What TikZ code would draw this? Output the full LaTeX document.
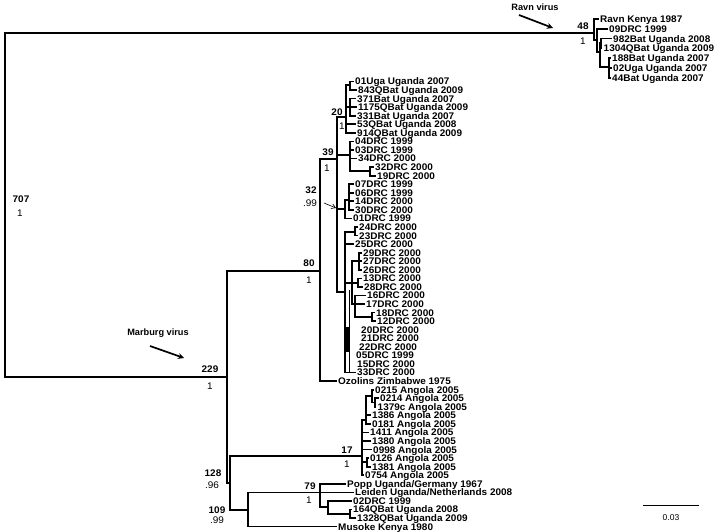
\documentclass[tikz,border=0pt]{standalone}
\usepackage{fontspec}
\setmainfont{Liberation Sans}
\newfontfamily\labfont[FakeStretch=1.04]{Liberation Sans}
\usetikzlibrary{arrows.meta}
\begin{document}
\begin{tikzpicture}[x=1pt,y=-1pt,
  br/.style={line width=1.7pt,line cap=rect,line join=miter},
  tip/.style={anchor=west,inner xsep=2pt,inner ysep=0pt,text height=6.9pt,text depth=0pt,font=\labfont\bfseries\fontsize{9.6}{9.6}\selectfont},
  supb/.style={inner sep=0pt,font=\labfont\bfseries\fontsize{9.6}{9.6}\selectfont},
  supr/.style={inner sep=0pt,font=\labfont\fontsize{9.6}{9.6}\selectfont},
  callout/.style={inner sep=0pt,font=\bfseries\fontsize{9.2}{9.2}\selectfont},
  bigarrow/.style={line width=1.7pt,-{Stealth[length=6pt,width=6pt]}}]
\useasboundingbox (0,0) rectangle (720,532);
% internal nodes
\coordinate (root) at (5,205);
\coordinate (r0) at (594,33);
\coordinate (r1) at (597,40);
\coordinate (r2) at (600,52);
\coordinate (r3) at (601,43);
\coordinate (r4) at (609,67);
\coordinate (n229) at (227,377);
\coordinate (n80) at (320,271);
\coordinate (n39) at (337,159);
\coordinate (n20) at (346,117);
\coordinate (nA1) at (350,85);
\coordinate (nA2) at (350,107);
\coordinate (nB) at (350,155);
\coordinate (nB2) at (370,171);
\coordinate (nC) at (345,209);
\coordinate (nC1) at (349,200);
\coordinate (nD) at (345,292);
\coordinate (nD1) at (355,232);
\coordinate (nD2) at (352,283);
\coordinate (nD2a) at (359,261.3);
\coordinate (nD2b) at (358,282.7);
\coordinate (nD2c) at (355,304);
\coordinate (nD2cc) at (372,317);
\coordinate (n128) at (230,483);
\coordinate (n17) at (362,456);
\coordinate (nAng2) at (366,420);
\coordinate (nAng1) at (372,396);
\coordinate (nAng1b) at (375,402.5);
\coordinate (nAngB) at (367,462);
\coordinate (n109) at (248,510);
\coordinate (n79) at (320,492.4);
\coordinate (nQ) at (328,507);
\coordinate (nQ2) at (350,513.8);
% tips: Ravn
\node[tip] (tRavn) at (598,19) {Ravn Kenya 1987};
\node[tip] (t09) at (607,28.8) {09DRC 1999};
\node[tip] (t982) at (611,38.6) {982Bat Uganda 2008};
\node[tip] (t1304) at (601.5,48.4) {1304QBat Uganda 2009};
\node[tip] (t188) at (610,58.2) {188Bat Uganda 2007};
\node[tip] (t02uga) at (611,68) {02Uga Uganda 2007};
\node[tip] (t44) at (610,77.8) {44Bat Uganda 2007};
% tips: Marburg
\node[tip] (t01uga) at (353,81.5) {01Uga Uganda 2007};
\node[tip] (t843) at (356,90.06) {843QBat Uganda 2009};
\node[tip] (t371) at (355,98.62) {371Bat Uganda 2007};
\node[tip] (t1175) at (356,107.18) {1175QBat Uganda 2009};
\node[tip] (t331) at (355,115.74) {331Bat Uganda 2007};
\node[tip] (t53) at (355,124.3) {53QBat Uganda 2008};
\node[tip] (t914) at (355,132.86) {914QBat Uganda 2009};
\node[tip] (t04) at (353,141.42) {04DRC 1999};
\node[tip] (t03) at (353,149.98) {03DRC 1999};
\node[tip] (t34) at (356,158.54) {34DRC 2000};
\node[tip] (t32) at (373,167.1) {32DRC 2000};
\node[tip] (t19) at (375,175.66) {19DRC 2000};
\node[tip] (t07) at (353,184.22) {07DRC 1999};
\node[tip] (t06) at (353,192.78) {06DRC 1999};
\node[tip] (t14) at (353,201.34) {14DRC 2000};
\node[tip] (t30) at (353,209.9) {30DRC 2000};
\node[tip] (t01drc) at (351,218.46) {01DRC 1999};
\node[tip] (t24) at (357,227.02) {24DRC 2000};
\node[tip] (t23) at (357,235.58) {23DRC 2000};
\node[tip] (t25) at (353,244.14) {25DRC 2000};
\node[tip] (t29) at (361,252.7) {29DRC 2000};
\node[tip] (t27) at (361,261.26) {27DRC 2000};
\node[tip] (t26) at (361,269.82) {26DRC 2000};
\node[tip] (t13) at (361,278.38) {13DRC 2000};
\node[tip] (t28) at (362,286.94) {28DRC 2000};
\node[tip] (t16) at (365,295.5) {16DRC 2000};
\node[tip] (t17) at (364,304.06) {17DRC 2000};
\node[tip] (t18) at (374,312.62) {18DRC 2000};
\node[tip] (t12) at (375,321.18) {12DRC 2000};
\node[tip] (t20) at (359,329.74) {20DRC 2000};
\node[tip] (t21) at (359,338.3) {21DRC 2000};
\node[tip] (t22) at (357,346.86) {22DRC 2000};
\node[tip] (t05) at (354,355.42) {05DRC 1999};
\node[tip] (t15) at (355,363.98) {15DRC 2000};
\node[tip] (t33) at (355,372.54) {33DRC 2000};
\node[tip] (tOzo) at (336,381.1) {Ozolins Zimbabwe 1975};
\node[tip] (t0215) at (373,389.66) {0215 Angola 2005};
\node[tip] (t0214) at (378,398.22) {0214 Angola 2005};
\node[tip] (t1379) at (375.5,406.78) {1379c Angola 2005};
\node[tip] (t1386) at (370,415.34) {1386 Angola 2005};
\node[tip] (t0181) at (370,423.9) {0181 Angola 2005};
\node[tip] (t1411) at (368,432.46) {1411 Angola 2005};
\node[tip] (t1380) at (370,441.02) {1380 Angola 2005};
\node[tip] (t0998) at (371,449.58) {0998 Angola 2005};
\node[tip] (t0126) at (368,458.14) {0126 Angola 2005};
\node[tip] (t1381) at (370,466.7) {1381 Angola 2005};
\node[tip] (t0754) at (363,475.26) {0754 Angola 2005};
\node[tip] (tPopp) at (345,483.82) {Popp Uganda/Germany 1967};
\node[tip] (tLeiden) at (353,492.38) {Leiden Uganda/Netherlands 2008};
\node[tip] (t02drc) at (351,500.94) {02DRC 1999};
\node[tip] (t164) at (351,509.5) {164QBat Uganda 2008};
\node[tip] (t1328) at (355,518.06) {1328QBat Uganda 2009};
\node[tip] (tMus) at (336,526.62) {Musoke Kenya 1980};
% internal edges
\foreach \a/\b in {root/r0,root/n229,r0/r1,r1/r2,r2/r3,r2/r4,
  n229/n80,n229/n128,n80/n39,n39/n20,n39/nB,n39/nC,n39/nD,n20/nA1,n20/nA2,
  nB/nB2,nC/nC1,nD/nD1,nD/nD2,nD2/nD2a,nD2/nD2b,nD2/nD2c,nD2c/nD2cc,
  n128/n17,n128/n109,n17/nAng2,nAng2/nAng1,nAng1/nAng1b,n17/nAngB,
  n109/n79,n79/nQ,nQ/nQ2}
  \draw[br] (\a) |- (\b);
% tip edges
\foreach \a/\b in {r0/tRavn,r1/t09,r3/t982,r3/t1304,r4/t188,r4/t02uga,r4/t44,
  nA1/t01uga,nA1/t843,nA2/t371,nA2/t1175,nA2/t331,n20/t53,n20/t914,
  nB/t04,nB/t03,nB/t34,nB2/t32,nB2/t19,nC1/t07,nC1/t06,nC1/t14,nC1/t30,nC/t01drc,
  nD1/t24,nD1/t23,nD/t25,nD2a/t29,nD2a/t27,nD2a/t26,nD2b/t13,nD2b/t28,
  nD2c/t16,nD2c/t17,nD2cc/t18,nD2cc/t12,nD/t33,n80/tOzo,
  nAng1/t0215,nAng1b/t0214,nAng1b/t1379,nAng2/t1386,nAng2/t0181,
  n17/t1411,n17/t1380,n17/t0998,nAngB/t0126,nAngB/t1381,n17/t0754,
  n109/tMus,n79/tPopp,n79/tLeiden,nQ/t02drc,nQ2/t164,nQ2/t1328}
  \draw[br] (\a) |- (\b.west);
% collapsed zero-length block
\draw[line width=1pt] (349.5,290) -- (349.5,372.5);
\fill (345,327) rectangle (350,352);
% support values
\node[supb] (s707) at (21,199) {707};
\node[supr] (p707) at (20,213) {1};
\node[supb] (s48) at (583,26) {48};
\node[supr] (p48) at (583,41) {1};
\node[supb] (s229) at (210,369) {229};
\node[supr] (p229) at (210,386) {1};
\node[supb] (s80) at (309,263) {80};
\node[supr] (p80) at (309,280) {1};
\node[supb] (s39) at (328,152) {39};
\node[supr] (p39) at (327,168) {1};
\node[supb] (s20) at (337,112) {20};
\node[supr] (p20) at (342,126) {1};
\node[supb] (s32) at (311,190) {32};
\node[supr] (p32) at (310,203) {.99};
\node[supb] (s17) at (347,450) {17};
\node[supr] (p17) at (347,464) {1};
\node[supb] (s128) at (213,473) {128};
\node[supr] (p128) at (212,485) {.96};
\node[supb] (s109) at (217,510) {109};
\node[supr] (p109) at (217,520) {.99};
\node[supb] (s79) at (310,486) {79};
\node[supr] (p79) at (309,500) {1};
% small arrow in tree
\coordinate (smA) at (324,203);
\coordinate (smB) at (336,208);
\draw[line width=0.6pt,-{Straight Barb[length=4pt,width=5pt]}] (smA) -- (smB);
% callouts
\node[callout] (ravn) at (535,7) {Ravn virus};
\coordinate (ravnT) at (519,15);
\coordinate (ravnH) at (553,28);
\draw[bigarrow] (ravnT) -- (ravnH);
\node[callout] (marb) at (158,333) {Marburg virus};
\coordinate (marbT) at (150,346);
\coordinate (marbH) at (184,358);
\draw[bigarrow] (marbT) -- (marbH);
% scale bar
\coordinate (sbL) at (643,505);
\coordinate (sbR) at (699,505);
\draw[line width=1pt] (sbL) -- (sbR);
\node[inner sep=0pt,font=\fontsize{8.5}{8.5}\selectfont] (sbt) at (671,518) {0.03};
\end{tikzpicture}
\end{document}
